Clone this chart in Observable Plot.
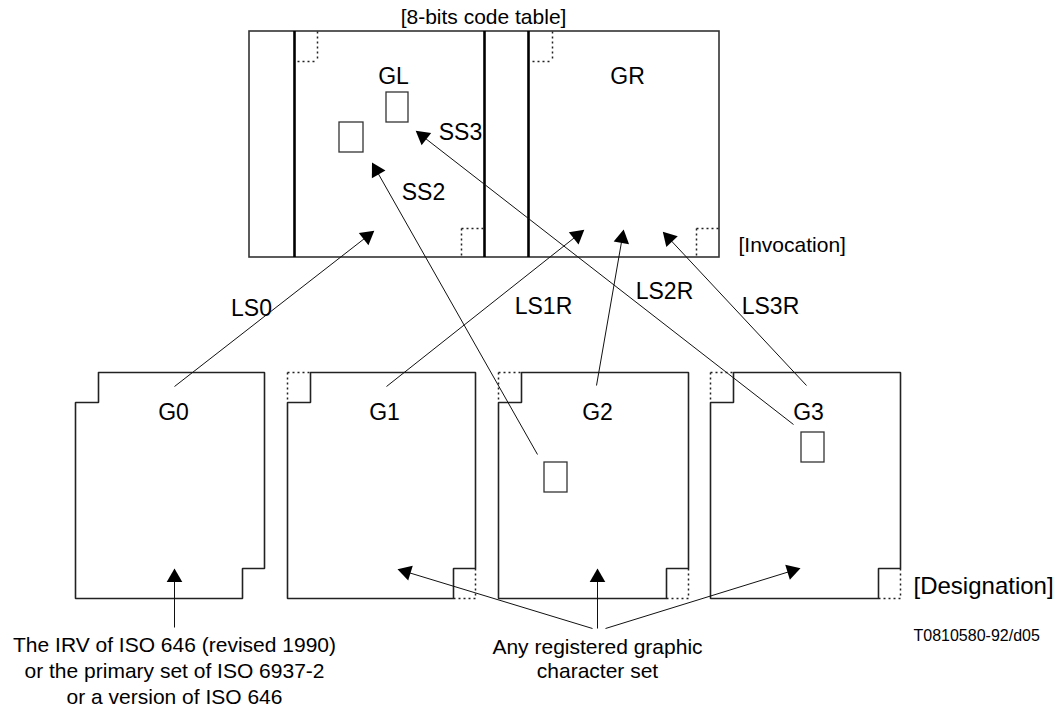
<!DOCTYPE html>
<html>
<head>
<meta charset="utf-8">
<script src="https://cdn.jsdelivr.net/npm/d3@7"></script>
<script src="https://cdn.jsdelivr.net/npm/@observablehq/plot@0.6"></script>
<style>
  html, body { margin: 0; padding: 0; background: #fff; }
  #chart svg { display: block; }
</style>
</head>
<body>
<div id="chart"></div>
<script>
// ---- Diagram data (diagram units = pixels of the original figure) ----
// 8-bit code table frame
const tableFrame = [{x1: 249, y1: 31, x2: 719, y2: 257}];
// thick dividers inside the code table
const tableDividers = [294, 484, 528];
// dotted corner marks inside the code table
const tableDotted = [
  {x1: 297, y1: 61, x2: 317, y2: 61}, {x1: 317, y1: 31, x2: 317, y2: 61},
  {x1: 532, y1: 61, x2: 552, y2: 61}, {x1: 552, y1: 31, x2: 552, y2: 61},
  {x1: 461, y1: 228, x2: 484, y2: 228}, {x1: 461, y1: 228, x2: 461, y2: 257},
  {x1: 696, y1: 228, x2: 719, y2: 228}, {x1: 696, y1: 228, x2: 696, y2: 257}
];
// G0..G3 designation boxes
const boxNames  = ["G0", "G1", "G2", "G3"];
const boxLeft   = [75, 287, 498, 710];
const boxRight  = [264, 475, 688, 900];
const boxTop    = 372;
const boxBottom = 598;
const notchW = 23, notchH = 30;
const boxDottedNotch = [false, true, true, true];
// small character cells
const cells = [
  {x1: 386, y1: 92, x2: 408, y2: 122},
  {x1: 339, y1: 122, x2: 363, y2: 152},
  {x1: 544, y1: 462, x2: 567, y2: 492},
  {x1: 801, y1: 432, x2: 824, y2: 462}
];
// arrows: from (x1,y1) to head at (x2,y2)
const arrows = [
  {id: "LS0",  x1: 174, y1: 386, x2: 373, y2: 231},
  {id: "SS2",  x1: 537, y1: 454, x2: 372, y2: 163},
  {id: "SS3",  x1: 793, y1: 424, x2: 416, y2: 131},
  {id: "LS1R", x1: 386, y1: 386, x2: 583, y2: 230},
  {id: "LS2R", x1: 596, y1: 385, x2: 623, y2: 230},
  {id: "LS3R", x1: 806, y1: 385, x2: 663, y2: 232},
  {id: "irv",  x1: 174, y1: 627, x2: 174, y2: 569},
  {id: "reg1", x1: 592, y1: 628, x2: 398, y2: 569},
  {id: "reg2", x1: 597, y1: 628, x2: 597, y2: 569},
  {id: "reg3", x1: 605, y1: 628, x2: 799, y2: 568}
];
// labels (centred)
const labels = [
  {text: "GL", x: 393, y: 76}, {text: "GR", x: 627, y: 76},
  {text: "G0", x: 173, y: 412}, {text: "G1", x: 384, y: 412},
  {text: "G2", x: 597, y: 412}, {text: "G3", x: 808, y: 412},
  {text: "SS2", x: 423, y: 192}, {text: "SS3", x: 460, y: 132},
  {text: "LS0", x: 251, y: 308}, {text: "LS1R", x: 543, y: 306},
  {text: "LS2R", x: 664, y: 291}, {text: "LS3R", x: 770, y: 306}
];
// notes
const centredNotes = [
  {text: "[8-bits code table]", x: 483, y: 17},
  {text: "The IRV of ISO 646 (revised 1990)", x: 174, y: 645},
  {text: "or the primary set of ISO 6937-2", x: 174, y: 671},
  {text: "or a version of ISO 646", x: 174, y: 697},
  {text: "Any registered graphic", x: 597, y: 647},
  {text: "character set", x: 597, y: 671}
];
const leftNotes = [
  {text: "[Invocation]", x: 738, y: 245, size: 21},
  {text: "[Designation]", x: 913, y: 586, size: 24},
  {text: "T0810580-92/d05", x: 913, y: 635, size: 16}
];

// ---- derived geometry ----
const boxOutline = [];
boxNames.forEach((name, i) => {
  const L = boxLeft[i], R = boxRight[i], T = boxTop, B = boxBottom;
  const pts = [
    [L + notchW, T], [R, T], [R, B - notchH], [R - notchW + 1, B - notchH],
    [R - notchW + 1, B], [L, B], [L, T + notchH], [L + notchW, T + notchH], [L + notchW, T]
  ];
  pts.forEach(([x, y]) => boxOutline.push({name, x, y}));
});
const boxDotted = [];
boxNames.forEach((name, i) => {
  if (!boxDottedNotch[i]) return;
  const L = boxLeft[i], R = boxRight[i], T = boxTop, B = boxBottom;
  boxDotted.push({x1: L, y1: T, x2: L + notchW, y2: T});
  boxDotted.push({x1: L, y1: T, x2: L, y2: T + notchH});
  boxDotted.push({x1: R - notchW + 1, y1: B, x2: R, y2: B});
  boxDotted.push({x1: R, y1: B - notchH, x2: R, y2: B});
});
const headLen = 8; // centroid offset from tip
const heads = arrows.map(a => {
  const dx = a.x2 - a.x1, dy = a.y2 - a.y1, len = Math.hypot(dx, dy);
  const ux = dx / len, uy = dy / len;
  return {
    x: a.x2 - ux * headLen, y: a.y2 - uy * headLen,
    angle: Math.atan2(dx, -dy) * 180 / Math.PI
  };
});

const font = "Liberation Sans, Arial, Helvetica, sans-serif";
const ink = "#111";

const chart = Plot.plot({
  width: 1060,
  height: 710,
  margin: 0,
  x: {domain: [0, 1060], range: [0, 1060], axis: null},
  y: {domain: [0, 710], range: [0, 710], axis: null},
  style: {background: "#fff", fontFamily: font},
  marks: [
    // code table
    Plot.rect(tableFrame, {x1: "x1", y1: "y1", x2: "x2", y2: "y2", fill: "none", stroke: "#333", strokeWidth: 1.6}),
    Plot.ruleX(tableDividers, {x: d => d, y1: 31, y2: 257, stroke: "#000", strokeWidth: 2.6}),
    Plot.link(tableDotted, {x1: "x1", y1: "y1", x2: "x2", y2: "y2", stroke: "#222", strokeWidth: 1.5, strokeDasharray: "2,3"}),
    // designation boxes
    Plot.line(boxOutline, {x: "x", y: "y", z: "name", stroke: "#222", strokeWidth: 1.6, strokeLinejoin: "miter", curve: "linear"}),
    Plot.link(boxDotted, {x1: "x1", y1: "y1", x2: "x2", y2: "y2", stroke: "#222", strokeWidth: 1.5, strokeDasharray: "2,3"}),
    // character cells
    Plot.rect(cells, {x1: "x1", y1: "y1", x2: "x2", y2: "y2", fill: "#fff", stroke: "#333", strokeWidth: 1.3}),
    // arrows
    Plot.link(arrows, {x1: "x1", y1: "y1", x2: "x2", y2: "y2", stroke: ink, strokeWidth: 1}),
    Plot.dot(heads, {x: "x", y: "y", rotate: "angle", symbol: "triangle", r: 5.8, fill: "#000", stroke: "none"}),
    // labels
    Plot.text(labels, {x: "x", y: "y", text: "text", fontSize: 23, fill: "#000", fontFamily: font}),
    Plot.text(centredNotes, {x: "x", y: "y", text: "text", fontSize: 21, fill: "#000", fontFamily: font}),
    Plot.text(leftNotes, {x: "x", y: "y", text: "text", fontSize: d => d.size, textAnchor: "start", fill: "#000", fontFamily: font})
  ]
});
document.getElementById("chart").appendChild(chart);
</script>
</body>
</html>
